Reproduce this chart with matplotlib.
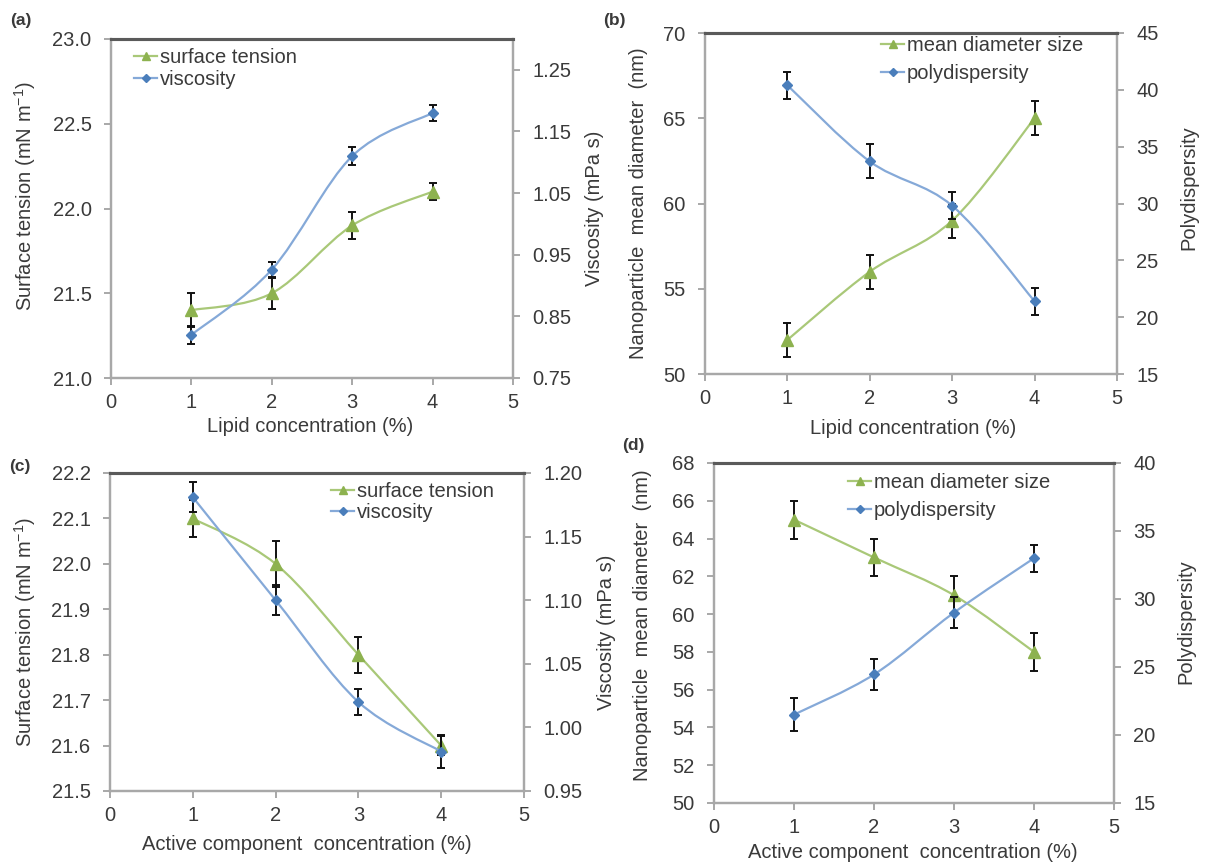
import numpy as np
import matplotlib
matplotlib.use("Agg")
import matplotlib.pyplot as plt
from matplotlib.path import Path
from matplotlib.patches import PathPatch
from matplotlib.lines import Line2D

plt.rcParams['font.family'] = ['Liberation Sans', 'DejaVu Sans']

# ---------------- data ----------------
conc = [1, 2, 3, 4]

# (a) lipid concentration
st_a = [21.4, 21.5, 21.9, 22.1]
st_a_err = [0.1, 0.09, 0.08, 0.05]
visc_a = [0.82, 0.926, 1.11, 1.18]
visc_a_err = [0.015, 0.012, 0.015, 0.013]

# (b) lipid concentration
md_b = [52, 56, 59, 65]
md_b_err = [1, 1, 1, 1]
pd_b = [40.4, 33.7, 29.8, 21.4]
pd_b_err = [1.2, 1.5, 1.2, 1.2]

# (c) active component concentration
st_c = [22.1, 22.0, 21.8, 21.6]
st_c_err = [0.04, 0.05, 0.04, 0.02]
visc_c = [1.181, 1.100, 1.020, 0.981]
visc_c_err = [0.012, 0.012, 0.01, 0.013]

# (d) active component concentration
md_d = [65, 63, 61, 58]
md_d_err = [1, 1, 1, 1]
pd_d = [21.5, 24.45, 29.0, 33.0]
pd_d_err = [1.2, 1.15, 1.15, 1.0]

# ---------------- style ----------------
W, H = 1209, 866
TXT = '#3a3a3a'
GREEN_L, GREEN_M = '#a9c878', '#8db24f'
BLUE_L, BLUE_M = '#85a9d8', '#4a7ebb'
FS = 14.5

fig = plt.figure(figsize=(W / 100, H / 100), dpi=100)


def px_ax(l, t, r, b):
    return fig.add_axes([l / W, 1 - b / H, (r - l) / W, (b - t) / H])


def ftext(x, y, s, **kw):
    fig.text(x / W, 1 - y / H, s, color=TXT, **kw)


def smooth_path(x, y):
    pts = np.column_stack([np.asarray(x, float), np.asarray(y, float)])
    n = len(pts)
    verts = [pts[0]]
    codes = [Path.MOVETO]
    for i in range(n - 1):
        p0 = pts[i - 1] if i > 0 else pts[i]
        p1, p2 = pts[i], pts[i + 1]
        p3 = pts[i + 2] if i + 2 < n else pts[i + 1]
        verts += [p1 + (p2 - p0) / 6, p2 - (p3 - p1) / 6, p2]
        codes += [Path.CURVE4] * 3
    return Path(verts, codes)


def series(ax, x, y, err, line_c, mark_c, marker, ms):
    ax.add_patch(PathPatch(smooth_path(x, y), fill=False, edgecolor=line_c,
                           lw=1.6, transform=ax.transData, zorder=2))
    ax.errorbar(x, y, yerr=err, fmt='none', ecolor='#111111', elinewidth=1.4,
                capsize=2.6, capthick=1.4, zorder=3)
    ax.plot(x, y, ls='none', marker=marker, ms=ms, color=mark_c, zorder=4)


def style(ax, ax2, ylim, yticks, fmt, y2lim, y2ticks, fmt2):
    ax.set_xlim(0, 5)
    ax.set_xticks(range(6))
    ax.set_ylim(*ylim)
    ax.set_yticks(yticks)
    ax.set_yticklabels([fmt.format(v) for v in yticks])
    ax2.set_ylim(*y2lim)
    ax2.set_yticks(y2ticks)
    ax2.set_yticklabels([fmt2.format(v) for v in y2ticks])
    for a in (ax, ax2):
        for side in ('left', 'right', 'bottom'):
            a.spines[side].set_color('#a8a8a8')
            a.spines[side].set_linewidth(1.6)
        a.spines['top'].set_color('#5a5a5a')
        a.spines['top'].set_linewidth(2.2)
        a.tick_params(direction='out', length=5, width=1.4, color='#a8a8a8',
                      labelsize=FS, labelcolor=TXT, pad=9)
    ax.tick_params(axis='x', pad=6)


def legend(ax2, labels, x_px, y_px, spacing):
    h1 = Line2D([], [], color=GREEN_L, lw=1.6, marker='^', ms=5.5,
                markerfacecolor=GREEN_M, markeredgecolor=GREEN_M)
    h2 = Line2D([], [], color=BLUE_L, lw=1.6, marker='D', ms=4,
                markerfacecolor=BLUE_M, markeredgecolor=BLUE_M)
    lg = ax2.legend([h1, h2], labels, loc='center left',
                    bbox_to_anchor=(x_px / W, 1 - y_px / H),
                    bbox_transform=fig.transFigure, frameon=False,
                    fontsize=FS, handlelength=1.15, handletextpad=0.15,
                    borderpad=0, borderaxespad=0, labelspacing=spacing)
    for t in lg.get_texts():
        t.set_color(TXT)


# ---------------- panel (a) ----------------
ax = px_ax(111, 39, 513, 378)
ax2 = ax.twinx()
series(ax, conc, st_a, st_a_err, GREEN_L, GREEN_M, '^', 8)
series(ax2, conc, visc_a, visc_a_err, BLUE_L, BLUE_M, 'D', 5.5)
style(ax, ax2, (21.0, 23.0), [21.0, 21.5, 22.0, 22.5, 23.0], '{:.1f}',
      (0.75, 1.30), [0.75, 0.85, 0.95, 1.05, 1.15, 1.25], '{:.2f}')
legend(ax2, ['surface tension', 'viscosity'], 134, 68.5, 0.12)
ftext(25, 196, 'Surface tension (mN m$^{\\mathregular{-1}}$)', rotation=90,
      ha='center', va='center', fontsize=FS)
ftext(595, 208, 'Viscosity (mPa s)', rotation=90, ha='center', va='center', fontsize=FS)
ftext(310, 427, 'Lipid concentration (%)', ha='center', va='center', fontsize=FS)
ftext(10, 21, '(a)', ha='left', va='center', fontsize=12.5, fontweight='bold')

# ---------------- panel (b) ----------------
ax = px_ax(705, 33, 1117, 374)
ax2 = ax.twinx()
series(ax, conc, md_b, md_b_err, GREEN_L, GREEN_M, '^', 8)
series(ax2, conc, pd_b, pd_b_err, BLUE_L, BLUE_M, 'D', 5.5)
style(ax, ax2, (50, 70), [50, 55, 60, 65, 70], '{:.0f}',
      (15, 45), [15, 20, 25, 30, 35, 40, 45], '{:.0f}')
legend(ax2, ['mean diameter size', 'polydispersity'], 881, 59.5, 0.45)
ftext(639, 203, 'Nanoparticle  mean diameter  (nm)', rotation=90,
      ha='center', va='center', fontsize=FS)
ftext(1189, 188, 'Polydispersity', rotation=90, ha='center', va='center', fontsize=FS)
ftext(913, 428, 'Lipid concentration (%)', ha='center', va='center', fontsize=FS)
ftext(603, 20, '(b)', ha='left', va='center', fontsize=12.5, fontweight='bold')

# ---------------- panel (c) ----------------
ax = px_ax(110, 473, 524, 791)
ax2 = ax.twinx()
series(ax, conc, st_c, st_c_err, GREEN_L, GREEN_M, '^', 8)
series(ax2, conc, visc_c, visc_c_err, BLUE_L, BLUE_M, 'D', 5.5)
style(ax, ax2, (21.5, 22.2), [21.5, 21.6, 21.7, 21.8, 21.9, 22.0, 22.1, 22.2], '{:.1f}',
      (0.95, 1.20), [0.95, 1.00, 1.05, 1.10, 1.15, 1.20], '{:.2f}')
legend(ax2, ['surface tension', 'viscosity'], 331, 502, 0.1)
ftext(25, 632, 'Surface tension (mN m$^{\\mathregular{-1}}$)', rotation=90,
      ha='center', va='center', fontsize=FS)
ftext(606, 632, 'Viscosity (mPa s)', rotation=90, ha='center', va='center', fontsize=FS)
ftext(307, 845, 'Active component  concentration (%)', ha='center', va='center', fontsize=FS)
ftext(9, 467, '(c)', ha='left', va='center', fontsize=12.5, fontweight='bold')

# ---------------- panel (d) ----------------
ax = px_ax(714, 463, 1114, 803)
ax2 = ax.twinx()
series(ax, conc, md_d, md_d_err, GREEN_L, GREEN_M, '^', 8)
series(ax2, conc, pd_d, pd_d_err, BLUE_L, BLUE_M, 'D', 5.5)
style(ax, ax2, (50, 68), [50, 52, 54, 56, 58, 60, 62, 64, 66, 68], '{:.0f}',
      (15, 40), [15, 20, 25, 30, 35, 40], '{:.0f}')
legend(ax2, ['mean diameter size', 'polydispersity'], 848, 496.5, 0.45)
ftext(643, 625, 'Nanoparticle  mean diameter  (nm)', rotation=90,
      ha='center', va='center', fontsize=FS)
ftext(1186, 622, 'Polydispersity', rotation=90, ha='center', va='center', fontsize=FS)
ftext(913, 853, 'Active component  concentration (%)', ha='center', va='center', fontsize=FS)
ftext(622, 446, '(d)', ha='left', va='center', fontsize=12.5, fontweight='bold')

fig.savefig('out.png', dpi=100)
